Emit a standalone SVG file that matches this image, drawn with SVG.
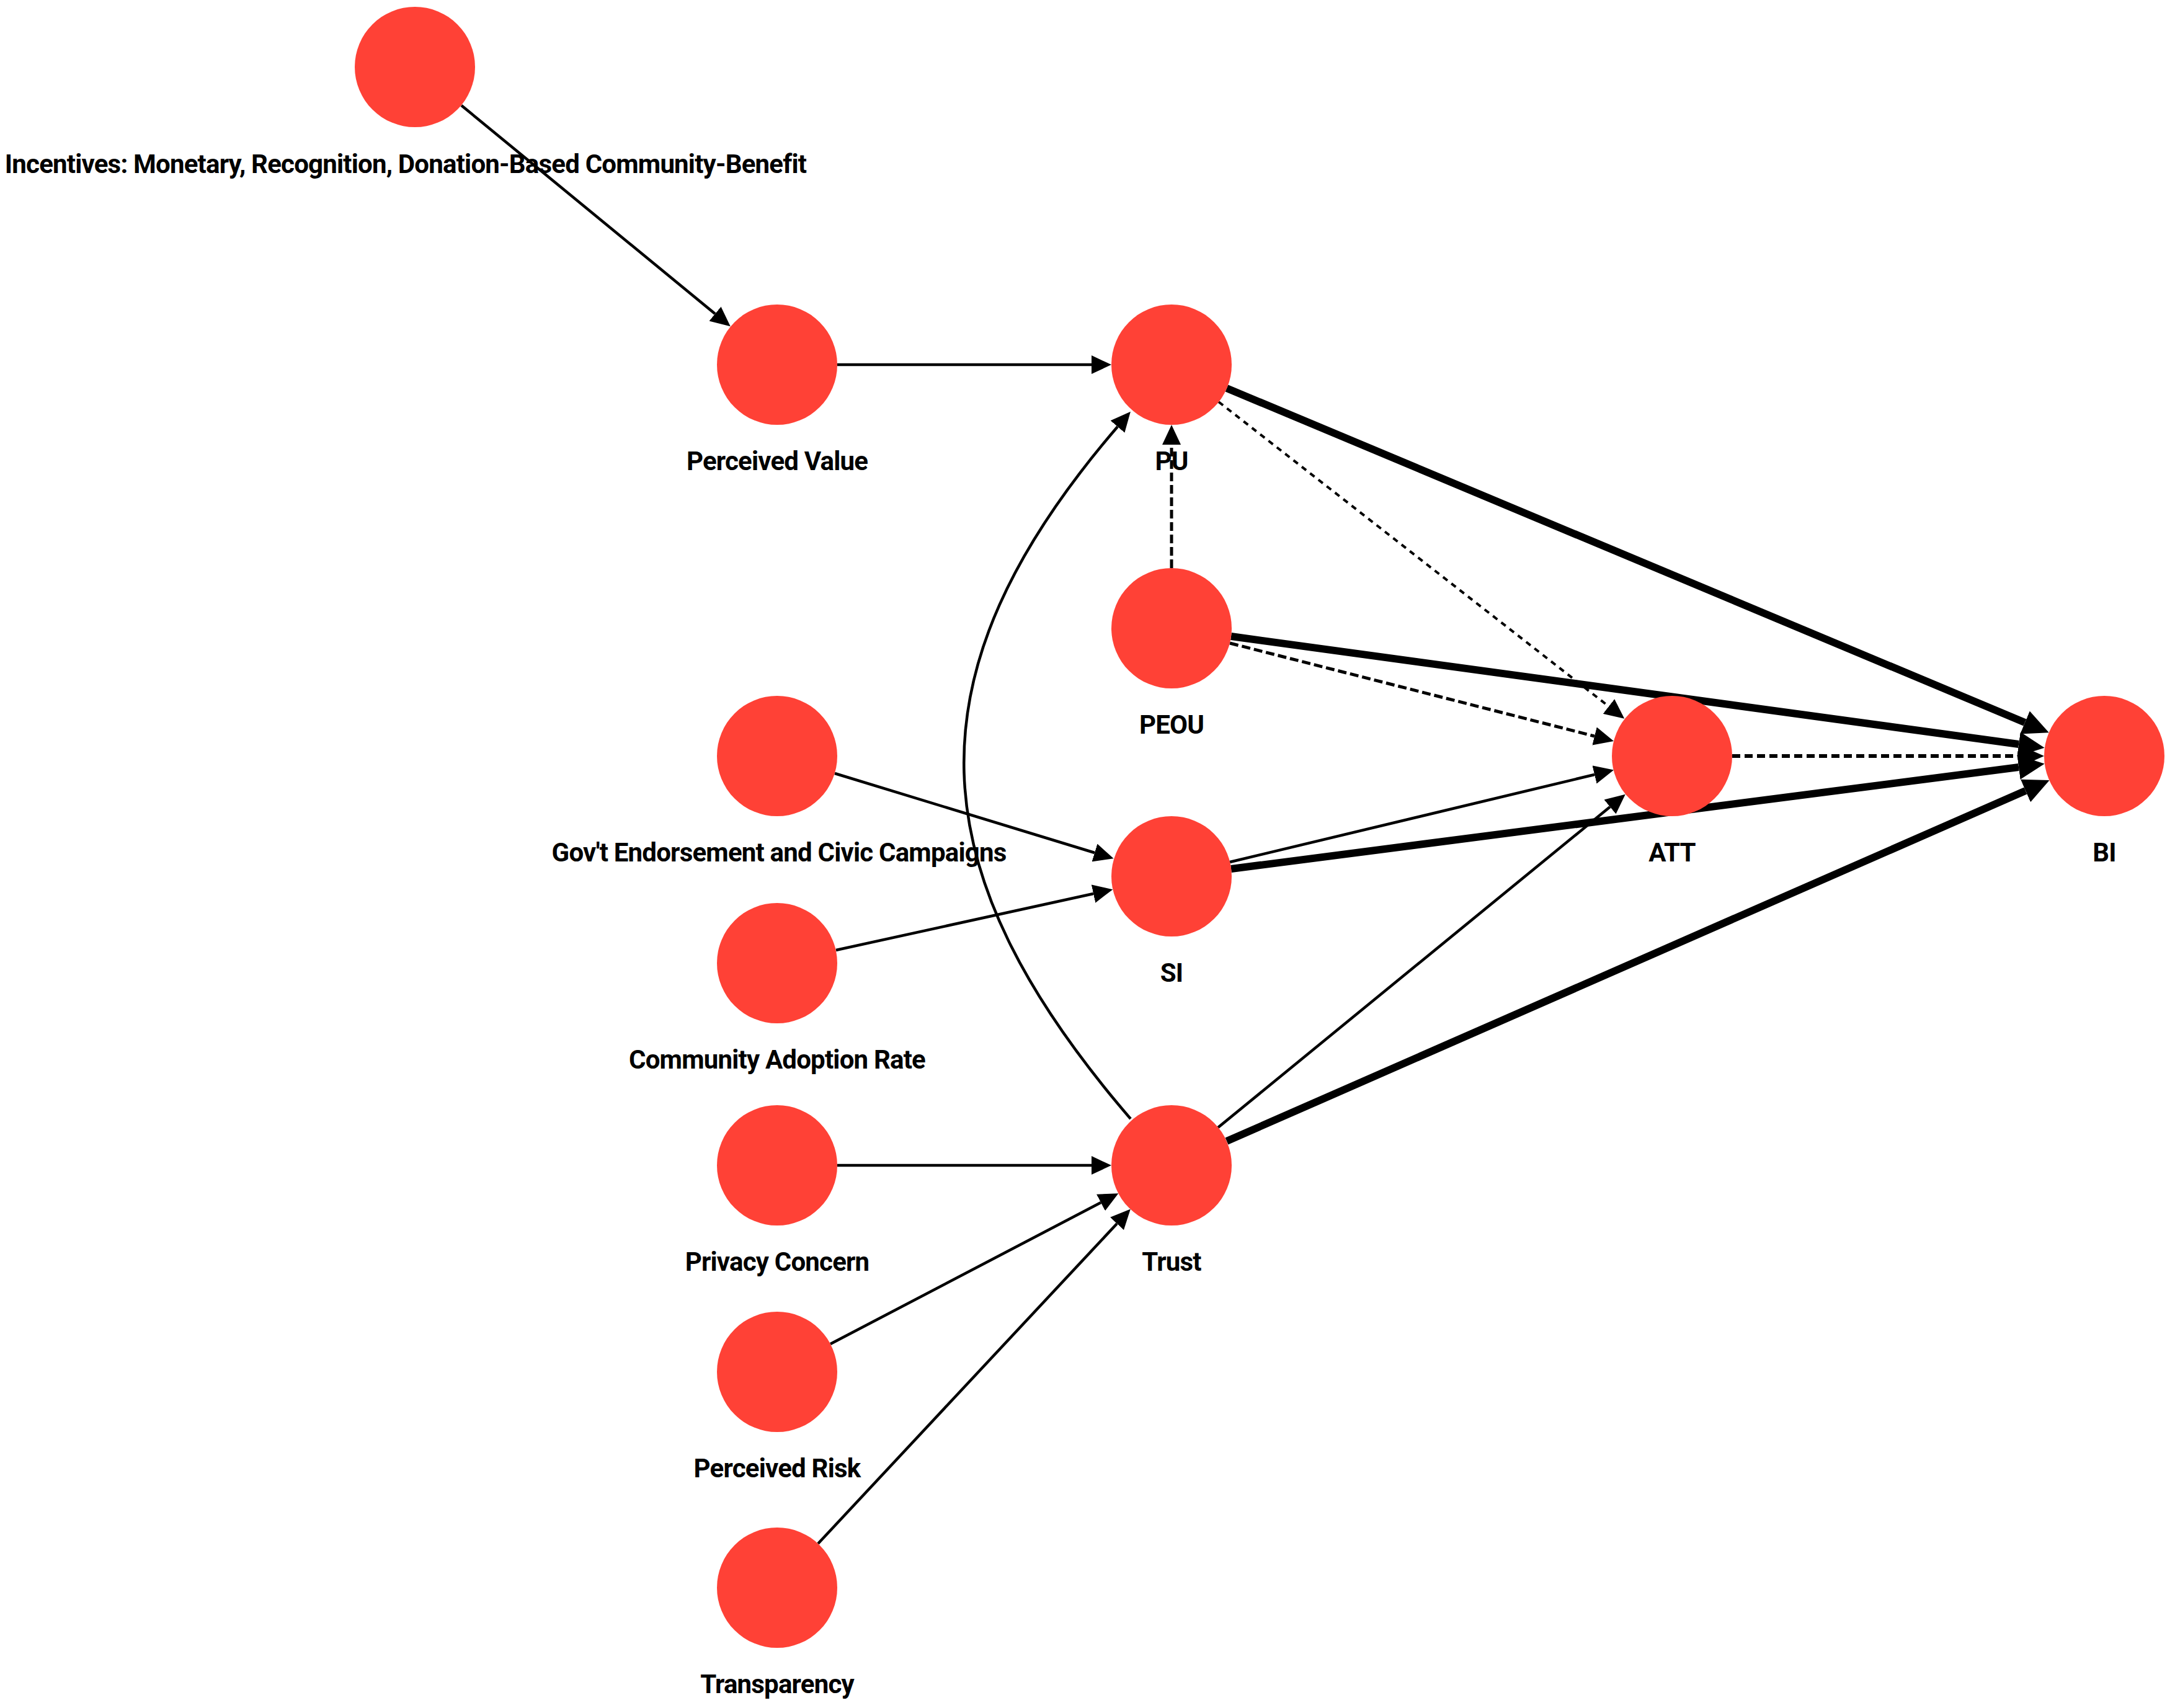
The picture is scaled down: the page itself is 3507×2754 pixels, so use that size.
<svg xmlns="http://www.w3.org/2000/svg" width="3507" height="2754" viewBox="0 0 3507 2754">
<style>
.node{fill:#FF4136;}
.lbl{font-family:Roboto,"Liberation Sans",Arial,sans-serif;font-weight:700;font-size:42px;fill:#000;text-anchor:middle;letter-spacing:-0.8px;}
.e{fill:none;stroke:#000;stroke-width:4.5;}
.thin{marker-end:url(#arrS);}
.thick{stroke-width:12;marker-end:url(#arrL);}
.dot{stroke-width:4;stroke-dasharray:9 8;}
.dash{stroke-width:5;stroke-dasharray:14 6;}
.dash2{stroke-width:6;stroke-dasharray:13 7;marker-end:url(#arrM);}
</style>
<defs>
<marker id="arrS" markerUnits="userSpaceOnUse" markerWidth="32" markerHeight="30" refX="0" refY="15" orient="auto"><path d="M0,0 L32,15 L0,30 z" fill="#000"/></marker>
<marker id="arrM" markerUnits="userSpaceOnUse" markerWidth="36" markerHeight="32" refX="0" refY="16" orient="auto"><path d="M0,0 L36,16 L0,32 z" fill="#000"/></marker>
<marker id="arrL" markerUnits="userSpaceOnUse" markerWidth="42" markerHeight="40" refX="0" refY="20" orient="auto"><path d="M0,0 L42,20 L0,40 z" fill="#000"/></marker>
</defs>
<rect width="3507" height="2754" fill="#fff"/>
<g id="connectors">
<line class="e thin" x1="744" y1="170" x2="1153" y2="506"/>
<line class="e thin" x1="1350" y1="588" x2="1760" y2="588"/>
<line class="e thin dash" x1="1889" y1="916" x2="1889" y2="717"/>
<line class="e thick" x1="1978" y1="626" x2="3265" y2="1165"/>
<line class="e thin dot" x1="1965" y1="648" x2="2594" y2="1139"/>
<line class="e thick" x1="1985" y1="1026" x2="3255" y2="1200"/>
<line class="e thin dash" x1="1983" y1="1037" x2="2571" y2="1187"/>
<line class="e dash2" x1="2793" y1="1219" x2="3260" y2="1219"/>
<line class="e thick" x1="1985" y1="1401" x2="3255" y2="1237"/>
<line class="e thin" x1="1983" y1="1390" x2="2571" y2="1249"/>
<line class="e thick" x1="1978" y1="1840" x2="3266" y2="1275"/>
<line class="e thin" x1="1964" y1="1818" x2="2596" y2="1301"/>
<path class="e thin" d="M1823,1804 C1479,1404 1458,1088 1802,688"/>
<line class="e thin" x1="1346" y1="1247" x2="1765" y2="1375"/>
<line class="e thin" x1="1348" y1="1532" x2="1763" y2="1441"/>
<line class="e thin" x1="1350" y1="1879" x2="1760" y2="1879"/>
<line class="e thin" x1="1339" y1="2167" x2="1775" y2="1939"/>
<line class="e thin" x1="1319" y1="2489" x2="1801" y2="1973"/>
</g>
<g id="n-incentives"><circle class="node" cx="669" cy="108" r="97"/><text class="lbl" x="654" y="279">Incentives: Monetary, Recognition, Donation-Based Community-Benefit</text></g>
<g id="n-pv"><circle class="node" cx="1253" cy="588" r="97"/><text class="lbl" x="1253" y="758">Perceived Value</text></g>
<g id="n-pu"><circle class="node" cx="1889" cy="588" r="97"/><text class="lbl" x="1889" y="758">PU</text></g>
<g id="n-peou"><circle class="node" cx="1889" cy="1013" r="97"/><text class="lbl" x="1889" y="1183">PEOU</text></g>
<g id="n-gov"><circle class="node" cx="1253" cy="1219" r="97"/><text class="lbl" x="1256" y="1389">Gov't Endorsement and Civic Campaigns</text></g>
<g id="n-si"><circle class="node" cx="1889" cy="1413" r="97"/><text class="lbl" x="1889" y="1583">SI</text></g>
<g id="n-comm"><circle class="node" cx="1253" cy="1553" r="97"/><text class="lbl" x="1253" y="1723">Community Adoption Rate</text></g>
<g id="n-att"><circle class="node" cx="2696" cy="1219" r="97"/><text class="lbl" x="2696" y="1389">ATT</text></g>
<g id="n-bi"><circle class="node" cx="3393" cy="1219" r="97"/><text class="lbl" x="3393" y="1389">BI</text></g>
<g id="n-privacy"><circle class="node" cx="1253" cy="1879" r="97"/><text class="lbl" x="1253" y="2049">Privacy Concern</text></g>
<g id="n-trust"><circle class="node" cx="1889" cy="1879" r="97"/><text class="lbl" x="1889" y="2049">Trust</text></g>
<g id="n-risk"><circle class="node" cx="1253" cy="2212" r="97"/><text class="lbl" x="1253" y="2382">Perceived Risk</text></g>
<g id="n-transp"><circle class="node" cx="1253" cy="2560" r="97"/><text class="lbl" x="1253" y="2730">Transparency</text></g>
</svg>
